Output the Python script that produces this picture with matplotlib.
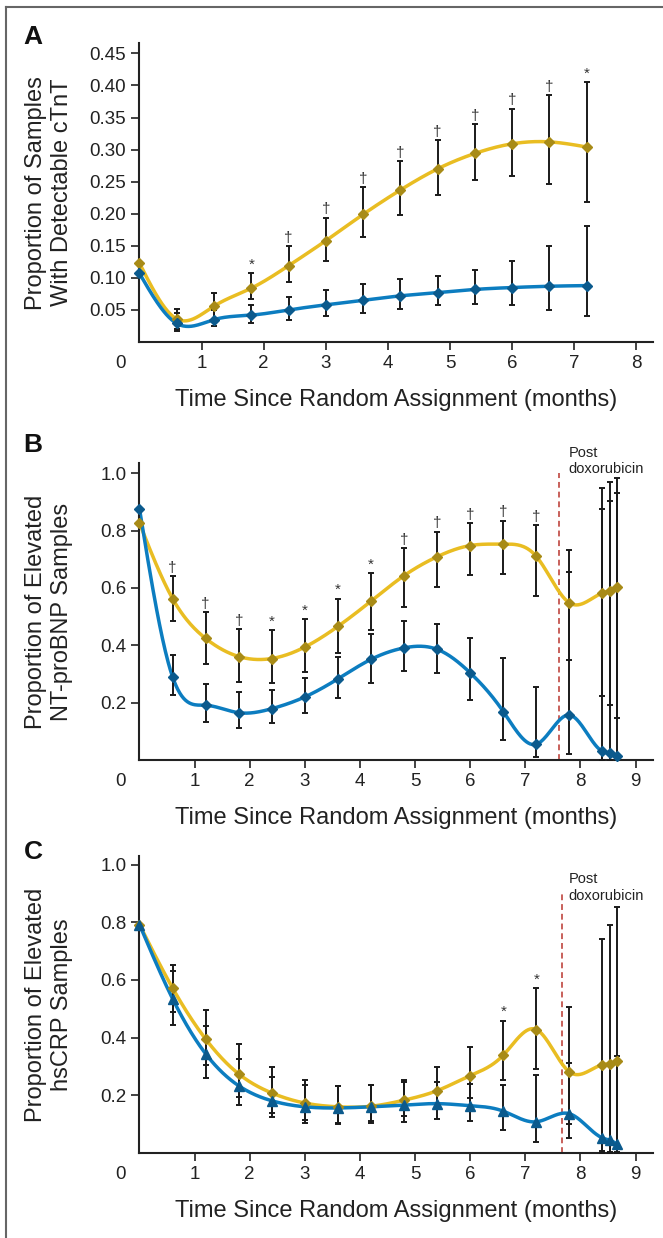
import numpy as np
import matplotlib
matplotlib.use('Agg')
import matplotlib.pyplot as plt
from matplotlib.lines import Line2D

plt.rcParams['font.family'] = ['Liberation Sans', 'DejaVu Sans']

nan = np.nan

# panel A - cTnT
a_x = [0, 0.6, 1.2, 1.8, 2.4, 3.0, 3.6, 4.2, 4.8, 5.4, 6.0, 6.6, 7.2]
a_yel = [0.123, 0.036, 0.056, 0.084, 0.119, 0.158, 0.199, 0.237, 0.270, 0.294, 0.309, 0.312, 0.304]
a_yel_lo = [nan, 0.020, 0.036, 0.067, 0.093, 0.127, 0.163, 0.198, 0.229, 0.253, 0.259, 0.247, 0.218]
a_yel_hi = [nan, 0.052, 0.076, 0.108, 0.149, 0.194, 0.241, 0.282, 0.315, 0.340, 0.364, 0.385, 0.405]
a_blu = [0.107, 0.029, 0.035, 0.042, 0.050, 0.058, 0.065, 0.072, 0.077, 0.082, 0.085, 0.087, 0.088]
a_blu_lo = [nan, 0.018, 0.025, 0.029, 0.035, 0.041, 0.046, 0.052, 0.057, 0.060, 0.057, 0.050, 0.041]
a_blu_hi = [nan, 0.046, 0.050, 0.058, 0.071, 0.081, 0.090, 0.098, 0.103, 0.112, 0.126, 0.149, 0.181]
a_marks = ['', '', '', '*', '†', '†', '†', '†', '†', '†', '†', '†', '*']

# panel B - NT-proBNP
b_x = [0, 0.6, 1.2, 1.8, 2.4, 3.0, 3.6, 4.2, 4.8, 5.4, 6.0, 6.6, 7.2, 7.8, 8.4, 8.53, 8.67]
b_yel = [0.826, 0.563, 0.424, 0.361, 0.354, 0.394, 0.466, 0.554, 0.643, 0.709, 0.748, 0.753,
         0.710, 0.548, 0.583, 0.591, 0.602]
b_yel_lo = [nan, 0.484, 0.336, 0.273, 0.268, 0.308, 0.372, 0.452, 0.534, 0.603, 0.646, 0.648,
            0.573, 0.350, 0.223, 0.191, 0.148]
b_yel_hi = [nan, 0.641, 0.515, 0.456, 0.452, 0.492, 0.563, 0.652, 0.738, 0.796, 0.827, 0.835,
            0.819, 0.733, 0.948, 0.968, 0.985]
b_blu = [0.876, 0.290, 0.191, 0.165, 0.179, 0.220, 0.283, 0.351, 0.391, 0.386, 0.304, 0.169,
         0.055, 0.157, 0.030, 0.024, 0.015]
b_blu_lo = [nan, 0.225, 0.134, 0.113, 0.128, 0.165, 0.217, 0.270, 0.309, 0.304, 0.208, 0.070,
            0.012, 0.020, 0.0, 0.0, 0.0]
b_blu_hi = [nan, 0.367, 0.266, 0.237, 0.244, 0.287, 0.360, 0.438, 0.484, 0.476, 0.426, 0.357,
            0.254, 0.655, 0.875, 0.904, 0.933]
b_marks = ['', '†', '†', '†', '*', '*', '*', '*', '†', '†', '†', '†', '†', '', '', '', '']

# panel C - hsCRP
c_x = b_x
c_yel = [0.792, 0.572, 0.395, 0.274, 0.208, 0.173, 0.160, 0.162, 0.183, 0.216, 0.268, 0.339,
         0.428, 0.281, 0.306, 0.310, 0.318]
c_yel_lo = [nan, 0.488, 0.304, 0.193, 0.139, 0.116, 0.104, 0.110, 0.129, 0.156, 0.191, 0.252,
            0.292, 0.100, 0.008, 0.005, 0.005]
c_yel_hi = [nan, 0.653, 0.495, 0.378, 0.298, 0.252, 0.231, 0.237, 0.254, 0.298, 0.368, 0.459,
            0.572, 0.505, 0.742, 0.790, 0.853]
c_blu = [0.792, 0.535, 0.344, 0.233, 0.181, 0.160, 0.156, 0.160, 0.166, 0.171, 0.164, 0.145,
         0.108, 0.136, 0.052, 0.044, 0.031]
c_blu_lo = [nan, 0.445, 0.260, 0.166, 0.125, 0.104, 0.100, 0.104, 0.109, 0.117, 0.110, 0.081,
            0.038, 0.052, 0.0, 0.0, 0.0]
c_blu_hi = [nan, 0.630, 0.439, 0.326, 0.264, 0.237, 0.231, 0.235, 0.246, 0.246, 0.240, 0.237,
            0.272, 0.312, 0.300, 0.310, 0.335]
c_marks = ['', '', '', '', '', '', '', '', '', '', '', '*', '*', '', '', '', '']

YEL_LINE, YEL_MK = '#E9BD22', '#A88B17'
BLU_LINE, BLU_MK = '#0C7DC0', '#0B5A8D'
XLAB = 'Time Since Random Assignment (months)'


def natural_spline(x, y, n=500):
    x = np.asarray(x, float)
    y = np.asarray(y, float)
    k = len(x)
    h = np.diff(x)
    A = np.zeros((k, k))
    r = np.zeros(k)
    A[0, 0] = A[-1, -1] = 1
    for i in range(1, k - 1):
        A[i, i - 1] = h[i - 1]
        A[i, i] = 2 * (h[i - 1] + h[i])
        A[i, i + 1] = h[i]
        r[i] = 3 * ((y[i + 1] - y[i]) / h[i] - (y[i] - y[i - 1]) / h[i - 1])
    c = np.linalg.solve(A, r)
    b = (y[1:] - y[:-1]) / h - h * (2 * c[:-1] + c[1:]) / 3
    d = (c[1:] - c[:-1]) / (3 * h)
    xs = np.linspace(x[0], x[-1], n)
    idx = np.clip(np.searchsorted(x, xs) - 1, 0, k - 2)
    t = xs - x[idx]
    return xs, y[idx] + b[idx] * t + c[idx] * t ** 2 + d[idx] * t ** 3


def panel(ax, x, yel, ylo, yhi, blu, blo, bhi, marks, bmk, xmax, ymax, yticks, ylab):
    x = np.array(x)
    for ys, lc in [(yel, YEL_LINE), (blu, BLU_LINE)]:
        sx, sy = natural_spline(x, ys)
        ax.plot(sx, sy, color=lc, lw=2.5, zorder=2, solid_capstyle='round', clip_on=False)
    for ys, lo, hi in [(yel, ylo, yhi), (blu, blo, bhi)]:
        ys, lo, hi = np.array(ys), np.array(lo), np.array(hi)
        ax.errorbar(x[1:], ys[1:], yerr=[ys[1:] - lo[1:], hi[1:] - ys[1:]], fmt='none',
                    ecolor='#1a1a1a', elinewidth=1.4, capsize=2.5, capthick=1.4, zorder=3,
                    clip_on=False)
    ax.plot(x, yel, 'D', color=YEL_MK, ms=5.5, zorder=4, clip_on=False)
    ax.plot(x, blu, bmk, color=BLU_MK, ms=6.5 if bmk == '^' else 5.5, zorder=5, clip_on=False)
    for xi, hi, m in zip(x, np.fmax(np.array(yhi), np.array(bhi)), marks):
        if m:
            ax.annotate(m, (xi, hi), xytext=(0, 1), textcoords='offset points', ha='center',
                        va='bottom', fontsize=11, color='#333333')

    ax.set_xlim(0, xmax)
    ax.set_ylim(0, ymax)
    ax.set_xticks(range(1, int(xmax) + 1))
    ax.set_yticks(yticks)
    ax.set_yticklabels([f'{v:.2f}' if ymax < 0.5 else f'{v:.1f}' for v in yticks])
    for s in ['top', 'right']:
        ax.spines[s].set_visible(False)
    for s in ['left', 'bottom']:
        ax.spines[s].set_linewidth(1.5)
        ax.spines[s].set_color('#222222')
    ax.tick_params(direction='out', length=6, width=1.2, color='#222222', labelsize=13.5,
                   labelcolor='#222222')
    ax.annotate('0', (0, 0), xycoords='axes fraction', xytext=(-13.7, -9.5),
                textcoords='offset points', ha='center', va='top', fontsize=13.5, color='#222222')
    ax.set_xlabel(XLAB, fontsize=17, va='center', color='#222222')
    ax.xaxis.set_label_coords(0.5, -0.195)
    ax.set_ylabel(ylab, fontsize=17, va='center', linespacing=1.2, color='#222222')
    ax.yaxis.set_label_coords(-0.176, 0.5)


fig = plt.figure(figsize=(6.63, 12.38), dpi=100)
axA = fig.add_axes([0.2104, 0.7237, 0.7748, 0.2415])
axB = fig.add_axes([0.2104, 0.3861, 0.7748, 0.2397])
axC = fig.add_axes([0.2104, 0.0687, 0.7748, 0.2399])

panel(axA, a_x, a_yel, a_yel_lo, a_yel_hi, a_blu, a_blu_lo, a_blu_hi, a_marks, 'D',
      8.27, 0.466, np.arange(0.05, 0.451, 0.05),
      'Proportion of Samples\nWith Detectable cTnT')
panel(axB, b_x, b_yel, b_yel_lo, b_yel_hi, b_blu, b_blu_lo, b_blu_hi, b_marks, 'D',
      9.32, 1.035, [0.2, 0.4, 0.6, 0.8, 1.0],
      'Proportion of Elevated\nNT-proBNP Samples')
panel(axC, c_x, c_yel, c_yel_lo, c_yel_hi, c_blu, c_blu_lo, c_blu_hi, c_marks, '^',
      9.32, 1.03, [0.2, 0.4, 0.6, 0.8, 1.0],
      'Proportion of Elevated\nhsCRP Samples')

# post doxorubicin marker
for ax, xv, ytop, ytxt in [(axB, 7.62, 1.0, 0.99), (axC, 7.66, 0.9, 0.868)]:
    ax.plot([xv, xv], [0, ytop], color='#C8605A', lw=1.4, dashes=(3, 2), zorder=1)
    ax.text(7.78, ytxt, 'Post\ndoxorubicin', fontsize=10.5, ha='left', va='bottom',
            color='#222222', clip_on=False)

for lab, yp in [('A', 37.5), ('B', 445), ('C', 852)]:
    fig.text(33 / 663, 1 - yp / 1238, lab, fontsize=19, fontweight='bold', ha='center',
             va='center', color='#111111')

# frame
fig.add_artist(Line2D([5.5 / 663, 5.5 / 663], [0, 1 - 7 / 1238], transform=fig.transFigure,
                      color='#666666', lw=1.5))
fig.add_artist(Line2D([5.5 / 663, 1], [1 - 7 / 1238, 1 - 7 / 1238], transform=fig.transFigure,
                      color='#666666', lw=1.5))

fig.savefig('out.png', dpi=100)
